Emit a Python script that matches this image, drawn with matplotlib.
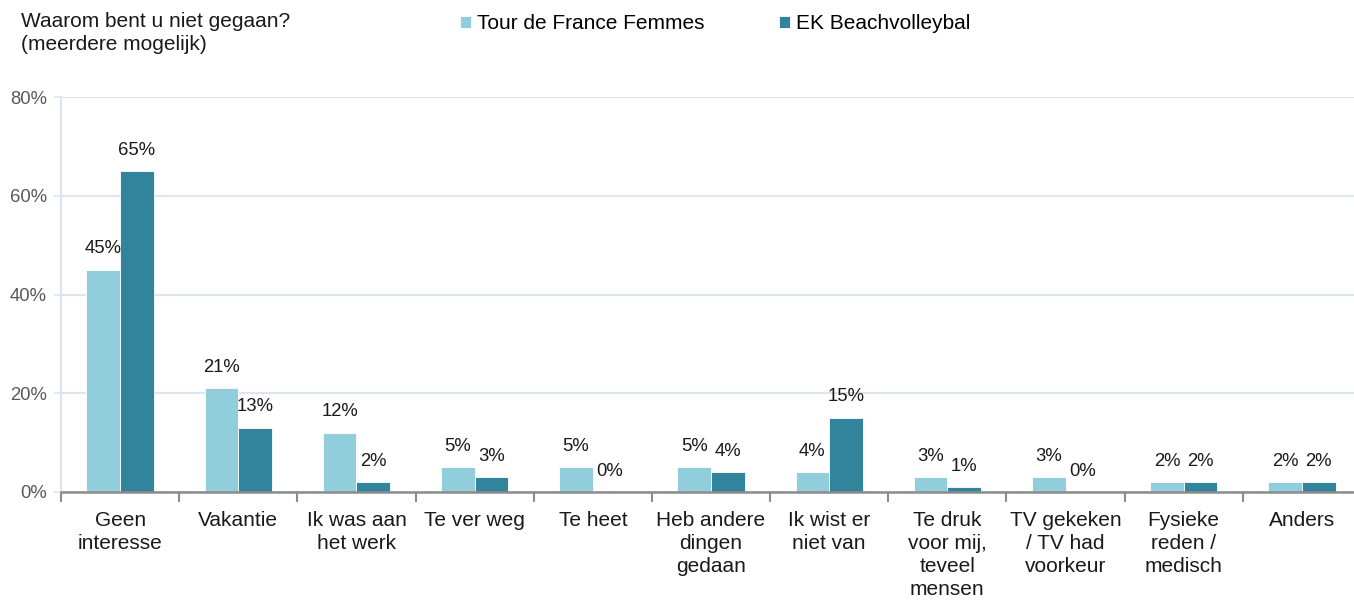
import matplotlib.pyplot as plt
import numpy as np
from matplotlib.ticker import PercentFormatter

# Data
categorieen = ['Geen\ninteresse', 'Vakantie', 'Ik was aan\nhet werk', 'Te ver weg', 'Te heet',
               'Heb andere\ndingen\ngedaan', 'Ik wist er\nniet van', 'Te druk\nvoor mij,\nteveel\nmensen',
               'TV gekeken\n/ TV had\nvoorkeur', 'Fysieke\nreden /\nmedisch', 'Anders']
tour_de_france = [45, 21, 12, 5, 5, 5, 4, 3, 3, 2, 2]
ek_beach = [65, 13, 2, 3, 0, 4, 15, 1, 0, 2, 2]
series_namen = ['Tour de France Femmes', 'EK Beachvolleybal']
y_ticks = [0, 20, 40, 60, 80]

plt.rcParams['font.family'] = ['Liberation Sans', 'DejaVu Sans']

kleur_licht = '#92CDDC'
kleur_donker = '#31849B'
grijs = '#595959'
tekst = '#1a1a1a'
raster = '#DCE6F2'

fig = plt.figure(figsize=(13.54, 6.02), dpi=100)
ax = fig.add_axes([61 / 1354, 110 / 602, 1300 / 1354, 395 / 602])

x = np.arange(len(categorieen))
breedte = 0.285
b1 = ax.bar(x - breedte / 2, tour_de_france, breedte, color=kleur_licht, edgecolor='white',
            linewidth=0.6, label=series_namen[0], zorder=3)
b2 = ax.bar(x + breedte / 2, ek_beach, breedte, color=kleur_donker, edgecolor='white',
            linewidth=0.6, label=series_namen[1], zorder=3)

# waarde labels boven de balken
for bars, waarden in [(b1, tour_de_france), (b2, ek_beach)]:
    for rect, v in zip(bars, waarden):
        ax.annotate(f'{v}%', (rect.get_x() + rect.get_width() / 2, v),
                    xytext=(0, 9), textcoords='offset points', ha='center', va='bottom',
                    fontsize=13.3, color=tekst)

ax.set_xlim(-0.5, len(categorieen) - 0.5)
ax.set_ylim(0, 80)
ax.set_yticks(y_ticks)
ax.yaxis.set_major_formatter(PercentFormatter(decimals=0))
ax.tick_params(axis='y', labelsize=13.3, labelcolor=grijs, color=raster, length=5, width=1.2, pad=5)
ax.grid(axis='y', color=raster, linewidth=1.5, zorder=0)
ax.set_axisbelow(True)

# categorie labels in het midden, streepjes op de grenzen
ax.set_xticks(x)
ax.set_xticklabels(categorieen, fontsize=15, color=tekst, linespacing=1.25, va='top')
ax.tick_params(axis='x', which='major', length=0, pad=14)
ax.set_xticks(np.arange(len(categorieen) + 1) - 0.5, minor=True)
ax.tick_params(axis='x', which='minor', length=7, width=1.5, color='#8c8c8c', direction='out')

for s in ['top', 'right']:
    ax.spines[s].set_visible(False)
ax.spines['left'].set_color(raster)
ax.spines['left'].set_linewidth(1.5)
ax.spines['bottom'].set_color('#8c8c8c')
ax.spines['bottom'].set_linewidth(1.8)
ax.spines['bottom'].set_zorder(4)

fig.text(21 / 1354, 1 - 12 / 602, 'Waarom bent u niet gegaan?\n(meerdere mogelijk)', fontsize=15,
         color=tekst, ha='left', va='top', linespacing=1.25)

fig.legend(handles=[b1, b2], loc='upper left', bbox_to_anchor=(452 / 1354, 1 - 6 / 602), ncol=2,
           frameon=False, fontsize=15, handlelength=0.5, handleheight=0.5, handletextpad=0.3,
           columnspacing=3.6, borderaxespad=0)

plt.savefig('out.png', dpi=100)
